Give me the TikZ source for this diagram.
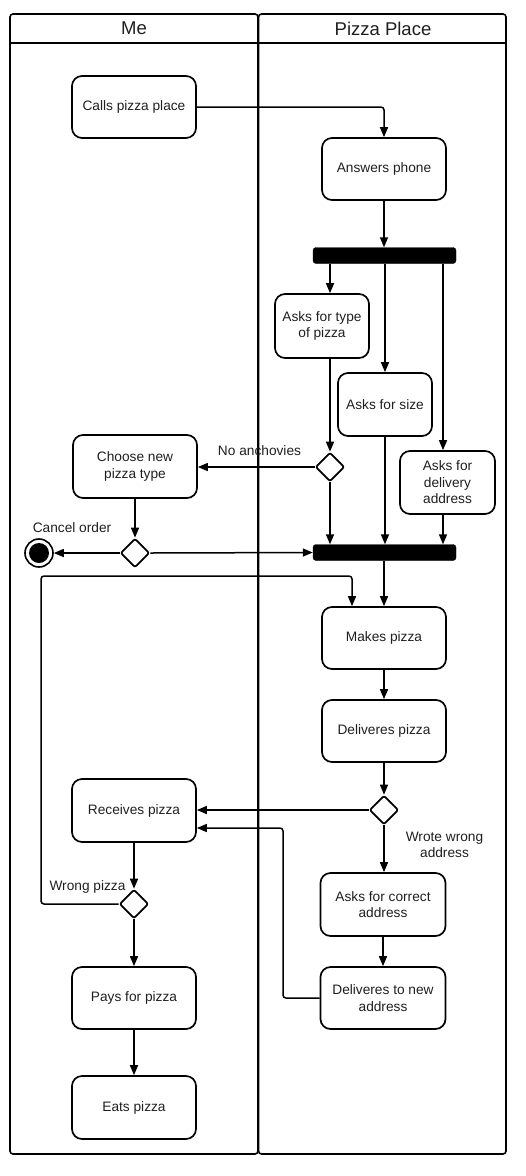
\documentclass[tikz,border=0pt]{standalone}
\usepackage{fontspec}
\setmainfont{Liberation Sans}
\usetikzlibrary{shapes.geometric,arrows.meta}
\tikzset{
  txt/.style={font=\fontsize{13.7}{16.5}\selectfont, text=black!88},
  act/.style={txt, draw, line width=1.7pt, rounded corners=10pt, align=center, inner sep=0pt},
  bar/.style={fill=black, draw=black, rounded corners=3pt, inner sep=0pt, minimum width=143pt, minimum height=16pt},
  dec/.style={diamond, draw, line width=1.7pt, fill=white, inner sep=0pt, minimum width=29pt, minimum height=29pt, rounded corners=2pt},
  arr/.style={line width=1.5pt, -{Triangle[length=10pt,width=8pt]}, rounded corners=3pt},
  lanebox/.style={draw, line width=1.6pt, rounded corners=3pt},
  head/.style={font=\fontsize{18.5}{20}\selectfont, text=black!88}
}
\begin{document}
\begin{tikzpicture}[x=1pt,y=-1pt]
\useasboundingbox (0,0) rectangle (526,1176);
% lanes
\draw[lanebox] (10,14) rectangle (258,1154);
\draw[line width=1.6pt] (10,43) -- (258,43);
\draw[lanebox] (258.5,14) rectangle (506,1154);
\draw[line width=1.6pt] (258.5,43) -- (506,43);
\node[head] (hme) at (134,28.5) {Me};
\node[head] (hpp) at (383,28.5) {Pizza Place};

% nodes
\node[act, minimum width=124pt, minimum height=62pt] (call) at (134,107) {Calls pizza place};
\node[act, minimum width=124pt, minimum height=62pt] (answer) at (384,169) {Answers phone};
\node[bar] (bar1) at (384.5,255.5) {};
\node[act, minimum width=94pt, minimum height=64pt] (type) at (322,326) {Asks for type\\of pizza};
\node[act, minimum width=94pt, minimum height=63pt] (size) at (385,404.5) {Asks for size};
\node[act, minimum width=95pt, minimum height=63pt] (deliv) at (447.5,482.5) {Asks for\\delivery\\address};
\node[dec] (d1) at (330,467) {};
\node[act, minimum width=124pt, minimum height=63pt] (choose) at (135,466.5) {Choose new\\pizza type};
\node[dec] (d2) at (135,553) {};
\node[circle, draw, line width=1.6pt, minimum size=28pt, inner sep=0pt] (fin) at (39,553) {};
\fill (fin.center) circle (10);
\node[bar] (bar2) at (384.5,552.5) {};
\node[act, minimum width=124pt, minimum height=62pt] (makes) at (384,638) {Makes pizza};
\node[act, minimum width=124pt, minimum height=62pt] (delivers) at (384,731) {Deliveres pizza};
\node[dec] (d4) at (384,810) {};
\node[act, minimum width=124pt, minimum height=63pt] (receives) at (134,810.5) {Receives pizza};
\node[act, minimum width=125pt, minimum height=63pt] (correct) at (383,904.5) {Asks for correct\\address};
\node[act, minimum width=125pt, minimum height=62pt] (newaddr) at (383,998) {Deliveres to new\\address};
\node[dec] (d3) at (134,904) {};
\node[act, minimum width=124pt, minimum height=62pt] (pays) at (134,998) {Pays for pizza};
\node[act, minimum width=124pt, minimum height=63pt] (eats) at (134,1107.5) {Eats pizza};

% labels
\node[txt] (lnoanch) at (259.5,451) {No anchovies};
\node[txt] (lcancel) at (72,528) {Cancel order};
\node[txt, align=center] (lwrong) at (444.5,845) {Wrote wrong\\address};
\node[txt] (lwpizza) at (87.5,887) {Wrong pizza};

% helper coordinates
\coordinate (col3) at (443,0);
\coordinate (loopL) at (41,576);
\coordinate (loopR) at (352,576);
\coordinate (loopB) at (283,828);

% connectors
\draw[arr] (call.east) -| (answer.north);
\draw[arr] (answer.south) -- (answer.south |- bar1.north);
\draw[arr] (bar1.south -| d1) -- (type.north -| d1);
\draw[arr] (size.north |- bar1.south) -- (size.north);
\draw[arr] (bar1.south -| col3) -- (deliv.north -| col3);
\draw[arr] (type.south -| d1) -- (d1.north);
\draw[arr] (d1.south) -- (d1.south |- bar2.north);
\draw[arr] (size.south) -- (size.south |- bar2.north);
\draw[arr] (deliv.south -| col3) -- (bar2.north -| col3);
\draw[arr] (d1.west) -- (choose.east |- d1.west);
\draw[arr] (choose.south) -- (d2.north);
\draw[arr] (d2.west) -- (fin.east);
\draw[arr] (d2.east) -- (bar2.west);
\draw[arr] (bar2.south -| makes.north) -- (makes.north);
\draw[arr] (makes.south) -- (delivers.north);
\draw[arr] (delivers.south) -- (d4.north);
\draw[arr] (d4.west) -- (receives.east |- d4.west);
\draw[arr] (d4.south) -- (correct.north -| d4.south);
\draw[arr] (correct.south) -- (newaddr.north);
\draw[arr] (newaddr.west) -| (loopB) -- (receives.east |- loopB);
\draw[arr] (receives.south) -- (d3.north);
\draw[arr] (d3.south) -- (pays.north);
\draw[arr] (pays.south) -- (eats.north);
\draw[arr] (d3.west) -| (loopL) -- (loopR) -- (makes.north -| loopR);
\end{tikzpicture}
\end{document}
